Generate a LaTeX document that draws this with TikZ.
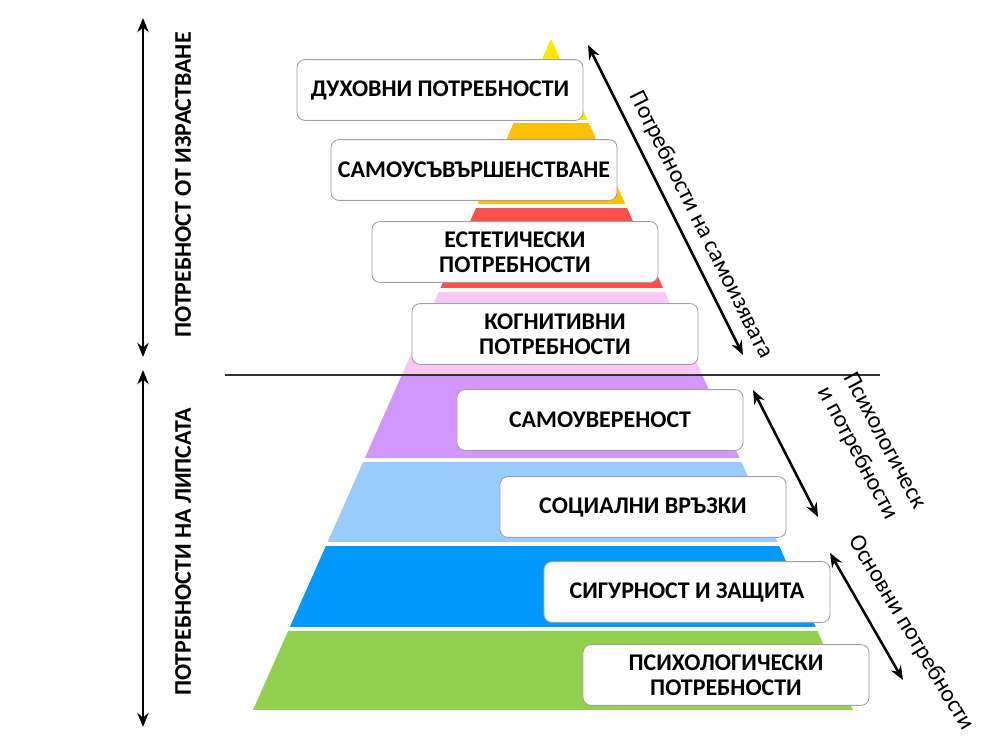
\documentclass[tikz,border=0pt]{standalone}
\usepackage{fontspec}
\setmainfont{Carlito}
\usetikzlibrary{positioning,arrows.meta,calc}
\definecolor{TopYellow}{RGB}{255,230,0}
\definecolor{LevelOrange}{RGB}{255,192,0}
\definecolor{LevelRed}{RGB}{255,80,80}
\definecolor{LevelPink}{RGB}{250,200,245}
\definecolor{LevelPurple}{RGB}{210,150,255}
\definecolor{LevelSky}{RGB}{153,204,255}
\definecolor{LevelBlue}{RGB}{0,153,255}
\definecolor{LevelGreen}{RGB}{146,208,80}
\definecolor{BoxGray}{RGB}{160,160,160}

\begin{document}
\begin{tikzpicture}[x=0.025cm, y=-0.025cm,
  needbox/.style={draw=BoxGray, line width=0.6pt, rounded corners=0.2cm, fill=white,
    minimum width=7.15cm, minimum height=1.52cm, align=center,
    font=\fontsize{17}{18}\selectfont\bfseries},
  sidelabel/.style={font=\fontsize{17}{21}\selectfont, align=left},
  bigarrow/.style={{Stealth[length=10pt,width=8pt]}-{Stealth[length=10pt,width=8pt]}, line width=1.8pt}]
  \useasboundingbox (0,0) rectangle (992,747);

  % pyramid bands
  \begin{scope}
    \clip (551,39) -- (853,710) -- (253,710) -- cycle;
    \fill[TopYellow] (200,30) rectangle (900,120);
    \fill[LevelOrange] (200,123) rectangle (900,204);
    \fill[LevelRed] (200,208) rectangle (900,288);
    \fill[LevelPink] (200,292) rectangle (900,375);
    \fill[LevelPurple] (200,375) rectangle (900,458);
    \fill[LevelSky] (200,462) rectangle (900,542);
    \fill[LevelBlue] (200,546) rectangle (900,627);
    \fill[LevelGreen] (200,631) rectangle (900,710);
  \end{scope}

  % split line
  \coordinate (sl) at (225,375);
  \coordinate (sr) at (880,375);
  \draw[line width=1.1pt, black!80] (sl) -- (sr);

  % levels
  \node[needbox] (spirit) at (440,90) {ДУХОВНИ ПОТРЕБНОСТИ};
  \node[needbox] (selfimp) at (474,170) {САМОУСЪВЪРШЕНСТВАНЕ};
  \node[needbox] (aesth) at (515,252) {ЕСТЕТИЧЕСКИ\\ПОТРЕБНОСТИ};
  \node[needbox] (cogn) at (555,334) {КОГНИТИВНИ\\ПОТРЕБНОСТИ};
  \node[needbox] (esteem) at (600,420) {САМОУВЕРЕНОСТ};
  \node[needbox] (social) at (643,507) {СОЦИАЛНИ ВРЪЗКИ};
  \node[needbox] (safety) at (687,592) {СИГУРНОСТ И ЗАЩИТА};
  \node[needbox] (physio) at (726,675) {ПСИХОЛОГИЧЕСКИ\\ПОТРЕБНОСТИ};

  % left side
  \coordinate (gtop) at (143,18);
  \coordinate (gbot) at (143,357);
  \coordinate (dtop) at (143,370);
  \coordinate (dbot) at (143,727);
  \draw[bigarrow] (gtop) -- (gbot);
  \draw[bigarrow] (dtop) -- (dbot);
  \node[font=\fontsize{17}{18}\selectfont\bfseries, rotate=90] (grow) at (183,185) {ПОТРЕБНОСТ ОТ ИЗРАСТВАНЕ};
  \node[font=\fontsize{17}{18}\selectfont\bfseries, rotate=90] (lack) at (183,552) {ПОТРЕБНОСТИ НА ЛИПСАТА};

  % right side
  \coordinate (a1) at (588,45);
  \coordinate (b1) at (743,355);
  \coordinate (a2) at (753,390);
  \coordinate (b2) at (818,517);
  \coordinate (a3) at (830,553);
  \coordinate (b3) at (903,680);
  \draw[bigarrow] (a1) -- (b1);
  \draw[bigarrow] (a2) -- (b2);
  \draw[bigarrow] (a3) -- (b3);
  \node[sidelabel, rotate=-63.5] (selfexp) at (701,225) {Потребности на самоизявата};
  \node[sidelabel, rotate=-62] (psych) at (871,448) {Психологическ\\и потребности};
  \node[sidelabel, rotate=-59] (basic) at (911,633) {Основни потребности};
\end{tikzpicture}
\end{document}
